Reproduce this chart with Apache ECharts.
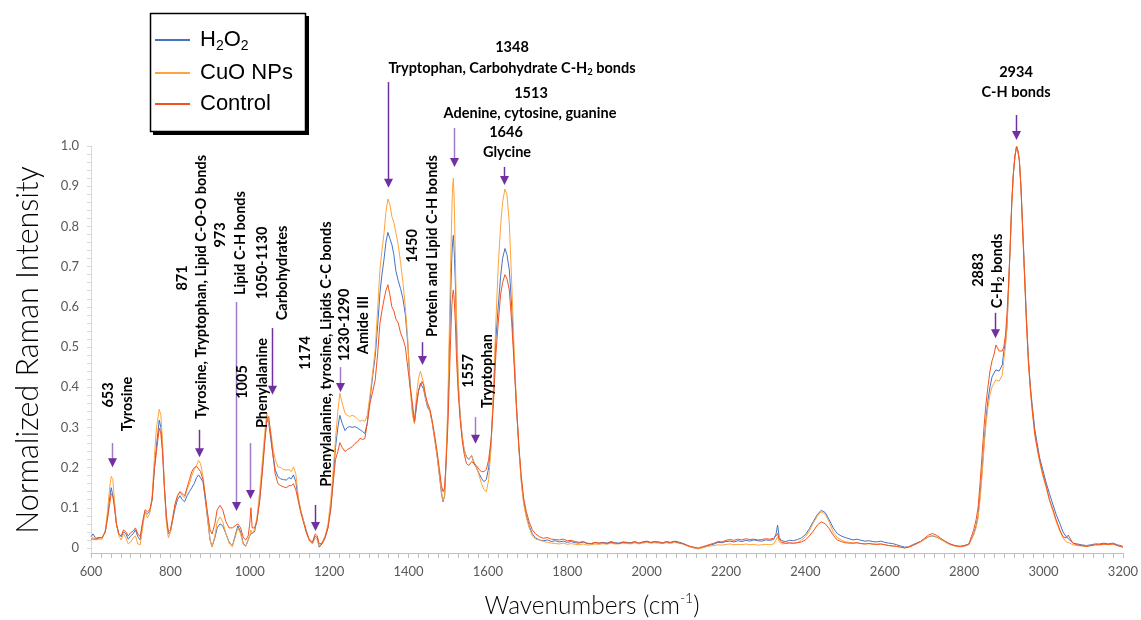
<!DOCTYPE html>
<html>
<head>
<meta charset="utf-8">
<title>Raman spectra</title>
<script src="https://cdn.jsdelivr.net/npm/echarts@6/dist/echarts.min.js"></script>
<style>
  html, body { margin: 0; padding: 0; background: #fff; }
  #chart { width: 1141px; height: 620px; }
</style>
</head>
<body>
<div id="chart"></div>
<script>
// Wavenumbers (cm-1) shared by all three spectra
const wavenumbers = [
  600, 605, 612, 620, 628, 636, 642, 647, 651, 655, 659, 664, 670, 676, 682, 688, 694, 700, 706, 712, 718, 724, 730, 736, 742, 748, 754, 760, 765, 772, 776,
  780, 785, 790, 795, 800, 806, 812, 818, 824, 830, 836, 842, 848, 854, 860, 866, 871, 876, 882, 888, 894, 900,
  905, 912, 918, 925, 932, 940, 948, 956, 963, 970, 977, 984, 990, 996, 1000, 1003, 1006, 1012,
  1018, 1025, 1032, 1038, 1043, 1048, 1053, 1058, 1064, 1071, 1078, 1085, 1092, 1099, 1105, 1110, 1116, 1122, 1128, 1135, 1142, 1150, 1158, 1165, 1170, 1175, 1182, 1190, 1197, 1204, 1210, 1216,
  1222, 1227, 1233, 1240, 1246, 1252, 1258, 1265, 1272, 1278, 1284, 1290, 1296, 1303, 1310, 1316, 1322, 1328, 1333, 1338, 1343, 1348, 1353, 1358, 1363, 1368, 1374, 1380, 1386, 1392, 1398, 1404, 1410, 1415,
  1420, 1425, 1430, 1434, 1438, 1443, 1448, 1454, 1460, 1466, 1472, 1478, 1483, 1487, 1491, 1495, 1499, 1503, 1506, 1509, 1511, 1513, 1515, 1518, 1521, 1525, 1530, 1535, 1540, 1546, 1552, 1559, 1565, 1571, 1578, 1584, 1590, 1596, 1602, 1608, 1614, 1620, 1626, 1632, 1637, 1643, 1648, 1654, 1660, 1666, 1672, 1678, 1684, 1690, 1697, 1704, 1712, 1720,
  1730, 1740, 1750, 1760, 1770, 1780, 1790, 1800, 1810, 1820,
  1830, 1840, 1850, 1860, 1870, 1880, 1890, 1900, 1910, 1920,
  1930, 1940, 1950, 1960, 1970, 1980, 1990, 2000, 2010, 2020,
  2030, 2040, 2050, 2060, 2070, 2080, 2090, 2100, 2110, 2120,
  2130, 2140, 2150, 2160, 2170, 2180, 2190, 2200, 2210, 2220,
  2230, 2240, 2250, 2260, 2270, 2280, 2290, 2300, 2310, 2320,
  2326, 2330, 2334,
  2340, 2350, 2360, 2370, 2380, 2390, 2400, 2410, 2420, 2430,
  2440, 2450, 2460, 2470, 2480, 2490, 2500, 2510, 2520, 2530,
  2540, 2550, 2560, 2570, 2580, 2590, 2600, 2610, 2620, 2630,
  2640, 2650, 2660, 2670, 2680, 2690, 2700, 2710, 2720, 2730,
  2740, 2750, 2760, 2770, 2780, 2790, 2800,
  2805, 2812, 2818, 2824, 2830, 2835, 2840, 2845, 2850, 2855, 2860, 2865, 2870, 2875, 2880, 2884, 2888, 2892, 2896, 2900, 2904, 2908, 2912, 2916, 2920, 2924, 2928, 2932, 2935, 2939, 2943, 2947, 2952, 2957, 2962, 2967, 2972, 2978, 2984, 2990, 2998, 3007, 3015, 3024, 3032, 3041, 3049, 3057, 3062, 3066, 3074, 3085, 3095, 3108, 3120, 3130, 3141, 3152, 3163, 3175, 3186, 3200
];

// Normalized intensity, H2O2-treated cells
const h2o2 = [
  .028, .035, .024, .026, .025, .04, .08, .125, .15, .148, .11, .06, .035, .028, .04, .035, .022, .03, .035, .045, .028, .02, .06, .09, .085, .09, .12, .2, .255, .318, .3,
  .25, .15, .07, .035, .04, .07, .1, .12, .13, .12, .115, .13, .14, .15, .16, .175, .182, .185, .165, .12, .07, .02,
  .003, .025, .05, .06, .055, .035, .015, .004, .03, .055, .04, .01, .005, .02, .03, .035, .032, .04,
  .07, .12, .2, .27, .32, .31, .27, .235, .195, .177, .172, .17, .169, .175, .172, .182, .165, .125, .095, .07, .045, .02, .012, .03, .025, .002, .01, .025, .05, .1, .17, .25,
  .3, .33, .31, .292, .3, .302, .3, .302, .298, .294, .29, .285, .31, .37, .43, .476, .55, .634, .68, .716, .76, .785, .77, .755, .73, .69, .665, .645, .62, .58, .51, .41, .34, .31,
  .35, .39, .41, .41, .395, .37, .35, .34, .31, .27, .23, .18, .135, .115, .13, .22, .33, .5, .62, .72, .76, .778, .74, .66, .54, .41, .33, .28, .245, .227, .22, .23, .21, .2, .185, .173, .165, .17, .2, .26, .38, .52, .6, .675, .72, .745, .73, .692, .6, .47, .35, .25, .17, .115, .08, .055, .035, .025,
  .02, .018, .02, .016, .018, .015, .017, .014, .016, .013,
  .012, .015, .011, .01, .013, .012, .014, .012, .016, .013,
  .012, .015, .014, .013, .016, .012, .015, .017, .014, .016,
  .015, .013, .016, .014, .017, .015, .012, .008, .003, .0,
  -.002, .001, .004, .007, .01, .014, .013, .016, .017, .015,
  .018, .016, .019, .017, .02, .018, .017, .02, .019, .021,
  .035, .057, .026,
  .018, .016, .019, .018, .021, .025, .033, .048, .066, .083,
  .094, .088, .07, .05, .036, .03, .026, .023, .02, .022,
  .019, .017, .018, .016, .015, .017, .014, .012, .011, .008,
  .005, .002, .003, .008, .012, .016, .022, .028, .03, .027,
  .022, .017, .012, .008, .005, .004, .006,
  .005, .01, .022, .035, .055, .08, .13, .19, .26, .32, .368, .4, .425, .435, .443, .445, .44, .437, .455, .49, .51, .551, .65, .75, .86, .932, .975, 1.0, .99, .965, .9, .81, .69, .57, .47, .4, .35, .295, .26, .225, .195, .161, .135, .107, .083, .061, .04, .028, .025, .02, .012, .01, .008, .006, .008, .01, .01, .012, .01, .012, .008, .004
];

// Normalized intensity, CuO nanoparticle-treated cells
const cuoNps = [
  .03, .028, .02, .022, .022, .045, .095, .15, .178, .17, .12, .06, .03, .02, .035, .025, .01, .015, .025, .03, .01, .008, .05, .09, .075, .085, .13, .23, .3, .345, .33,
  .27, .15, .06, .025, .04, .075, .11, .13, .14, .13, .125, .145, .16, .18, .195, .205, .218, .21, .18, .13, .07, .02,
  .003, .03, .065, .077, .065, .035, .012, .004, .025, .05, .035, .008, .004, .02, .03, .045, .035, .045,
  .075, .14, .22, .29, .335, .335, .29, .252, .22, .202, .2, .195, .194, .195, .19, .202, .185, .13, .095, .07, .04, .018, .01, .025, .02, .005, .012, .03, .06, .12, .19, .27,
  .34, .385, .36, .335, .33, .327, .33, .327, .32, .315, .318, .315, .33, .38, .44, .493, .59, .692, .74, .78, .835, .868, .855, .825, .81, .785, .755, .71, .66, .6, .52, .4, .33, .31,
  .38, .42, .44, .443, .41, .37, .355, .34, .31, .27, .23, .18, .14, .118, .13, .23, .36, .55, .7, .83, .9, .92, .87, .72, .58, .43, .33, .28, .245, .225, .22, .23, .215, .2, .18, .16, .145, .14, .17, .25, .4, .56, .7, .8, .86, .893, .88, .808, .66, .5, .36, .25, .165, .11, .075, .05, .03, .022,
  .02, .016, .014, .012, .011, .01, .012, .009, .011, .009,
  .008, .01, .007, .008, .01, .009, .011, .009, .012, .01,
  .01, .012, .011, .01, .013, .01, .012, .014, .012, .013,
  .012, .011, .013, .011, .014, .012, .01, .006, .002, .0,
  -.002, .0, .003, .005, .006, .008, .007, .009, .01, .008,
  .009, .008, .01, .008, .009, .007, .008, .009, .008, .01,
  .02, .028, .015,
  .01, .011, .012, .011, .014, .019, .028, .043, .062, .079,
  .09, .084, .064, .04, .026, .02, .016, .014, .012, .013,
  .011, .01, .011, .009, .009, .01, .008, .006, .005, .004,
  .002, .0, .002, .006, .01, .015, .021, .028, .031, .028,
  .022, .016, .01, .006, .004, .003, .004,
  .003, .008, .02, .033, .05, .075, .12, .18, .25, .31, .351, .38, .4, .41, .418, .42, .415, .412, .43, .468, .5, .551, .65, .75, .86, .932, .975, 1.0, .99, .965, .9, .8, .68, .559, .46, .39, .335, .28, .245, .215, .18, .148, .118, .09, .065, .042, .025, .015, .014, .012, .008, .006, .005, .004, .006, .008, .008, .009, .008, .01, .006, .002
];

// Normalized intensity, untreated control cells
const control = [
  .022, .02, .022, .025, .026, .04, .075, .11, .135, .13, .1, .06, .035, .03, .045, .04, .03, .038, .042, .05, .035, .028, .065, .095, .09, .095, .12, .2, .24, .298, .285,
  .24, .15, .08, .04, .045, .075, .11, .13, .14, .135, .13, .15, .17, .19, .2, .203, .2, .19, .17, .13, .085, .045,
  .035, .06, .095, .106, .095, .065, .05, .05, .055, .06, .05, .025, .02, .03, .06, .1, .05, .05,
  .065, .118, .19, .265, .318, .327, .28, .235, .185, .16, .155, .152, .15, .155, .155, .16, .145, .118, .09, .065, .04, .02, .015, .035, .03, .01, .012, .028, .05, .095, .16, .22,
  .24, .262, .25, .24, .245, .248, .252, .26, .265, .273, .27, .272, .31, .36, .39, .418, .48, .559, .59, .617, .64, .655, .63, .6, .59, .57, .56, .535, .52, .5, .45, .4, .36, .315,
  .36, .39, .405, .414, .405, .38, .36, .345, .315, .28, .24, .195, .155, .14, .15, .22, .3, .42, .52, .6, .63, .642, .62, .56, .47, .39, .32, .27, .235, .21, .205, .215, .21, .205, .195, .19, .19, .195, .22, .27, .36, .48, .56, .63, .66, .68, .67, .642, .56, .46, .35, .255, .18, .125, .09, .065, .045, .035,
  .028, .024, .026, .022, .021, .02, .022, .018, .019, .016,
  .014, .016, .012, .011, .014, .012, .013, .011, .014, .012,
  .011, .014, .013, .012, .015, .012, .014, .016, .013, .015,
  .014, .012, .015, .013, .016, .013, .011, .007, .004, .002,
  .0, .003, .006, .009, .012, .016, .015, .019, .021, .019,
  .022, .02, .023, .021, .022, .02, .021, .023, .022, .024,
  .03, .036, .022,
  .014, .012, .013, .012, .013, .015, .02, .03, .042, .057,
  .065, .06, .048, .032, .02, .016, .013, .012, .012, .013,
  .011, .01, .011, .01, .009, .01, .008, .006, .005, .004,
  .002, .0, .002, .006, .011, .016, .024, .032, .036, .032,
  .025, .018, .012, .008, .005, .004, .005,
  .005, .01, .028, .045, .07, .1, .16, .23, .3, .36, .401, .44, .465, .48, .505, .508, .49, .486, .49, .501, .53, .584, .66, .75, .86, .932, .975, .998, .99, .965, .9, .8, .68, .559, .46, .393, .34, .285, .25, .219, .185, .153, .12, .095, .07, .045, .028, .025, .032, .025, .012, .008, .006, .004, .006, .008, .008, .01, .009, .01, .006, .002
];

const seriesNames = ['H2O2', 'CuO NPs', 'Control'];
const yTickLabels = [0, 0.1, 0.2, 0.3, 0.4, 0.5, 0.6, 0.7, 0.8, 0.9, 1.0];

// Band assignments: arrow position (wavenumber, intensity of arrow top and tip) and label lines
const bands = [
  { wn: 653,  top: 0.261, tip: 0.201, light: true,  labels: [['653', 108, 395, true], ['Tyrosine', 127, 404, true]] },
  { wn: 872,  top: 0.294, tip: 0.226, light: false, labels: [['871', 182, 278, true], ['Tyrosine, Tryptophan, Lipid C-O-O bonds', 201, 287, true]] },
  { wn: 965,  top: 0.612, tip: 0.092, light: true,  labels: [['973', 220, 235, true], ['Lipid C-H bonds', 240, 243, true]] },
  { wn: 1001, top: 0.261, tip: 0.122, light: true,  labels: [['1005', 242, 382, true], ['Phenylalanine', 262, 383, true]] },
  { wn: 1056, top: 0.547, tip: 0.381, light: false, labels: [['1050-1130', 262, 263, true], ['Carbohydrates', 282, 273, true]] },
  { wn: 1164, top: 0.107, tip: 0.042, light: false, labels: [['1174', 305, 353, true], ['Phenylalanine, tyrosine, Lipids C-C bonds', 326, 354, true]] },
  { wn: 1227, top: 0.45,  tip: 0.388, light: true,  labels: [['1230-1290', 344, 325, true], ['Amide III', 363, 325, true]] },
  { wn: 1348, top: 1.159, tip: 0.896, light: false, labels: [['1348', 512, 47, false], ['{m|Tryptophan, Carbohydrate C-H}{sub|2}{m| bonds}', 512, 68, false]] },
  { wn: 1434, top: 0.512, tip: 0.455, light: false, labels: [['1450', 412, 246, true], ['Protein and Lipid C-H bonds', 432, 246, true]] },
  { wn: 1514, top: 1.045, tip: 0.948, light: true,  labels: [['1513', 531, 93, false], ['Adenine, cytosine, guanine', 530, 113, false]] },
  { wn: 1567, top: 0.326, tip: 0.259, light: true,  labels: [['1557', 468, 371, true], ['Tryptophan', 487, 371, true]] },
  { wn: 1640, top: 0.948, tip: 0.903, light: false, labels: [['1646', 506, 132, false], ['Glycine', 507, 152, false]] },
  { wn: 2877, top: 0.585, tip: 0.522, light: false, labels: [['2883', 978, 270, true], ['{m|C-H}{sub|2}{m| bonds}', 997, 271, true]] },
  { wn: 2930, top: 1.077, tip: 1.015, light: false, labels: [['2934', 1016, 72, false], ['C-H bonds', 1016, 92, false]] }
];

const chart = echarts.init(document.getElementById('chart'), null, { renderer: 'canvas' });

const tickFont = 'Lato, "Open Sans", sans-serif';
const yTicks = [];
for (let v = 0; v <= 1.0001; v += 0.02) yTicks.push(Math.round(v * 100) / 100);

function pairs(values) {
  return wavenumbers.map((w, i) => [w, values[i]]);
}

const colors = ['#4472C4', '#FFA33A', '#F4511E'];
const legendFont = '"Liberation Sans", Arial, sans-serif';

chart.setOption({
  animation: false,
  grid: { left: 91, right: 18, top: 146, bottom: 67, containLabel: false },
  legend: {
    orient: 'vertical',
    left: 150,
    top: 13,
    padding: [16, 11, 15, 5],
    itemGap: 9,
    itemWidth: 35,
    itemHeight: 2,
    icon: 'rect',
    z: 12,
    data: seriesNames,
    formatter: function (name) {
      if (name === 'H2O2') return '{t|H}{sub|2}{t|O}{sub|2}';
      return '{t|' + name + '}';
    },
    textStyle: {
      padding: [0, 0, 0, 5],
      rich: {
        t: { fontFamily: legendFont, fontSize: 22, color: '#000', lineHeight: 26, verticalAlign: 'middle' },
        sub: { fontFamily: legendFont, fontSize: 14, color: '#000', lineHeight: 14, verticalAlign: 'bottom' }
      }
    }
  },
  xAxis: {
    type: 'value',
    min: 600,
    max: 3200,
    interval: 200,
    axisLine: { show: true, onZero: false, lineStyle: { color: '#BFBFBF', width: 1 } },
    axisTick: { show: true, length: 5, lineStyle: { color: '#BFBFBF' } },
    minorTick: { show: true, splitNumber: 8, length: 5, lineStyle: { color: '#BFBFBF' } },
    splitLine: { show: false },
    axisLabel: {
      color: '#595959', fontFamily: tickFont, fontSize: 13, margin: 12,
      formatter: function (v) { return String(v); }
    }
  },
  yAxis: {
    type: 'value',
    min: -0.0125,
    max: 1.0,
    axisLine: { show: true, lineStyle: { color: '#D9D9D9', width: 1 } },
    axisTick: { show: true, length: 4, customValues: yTicks, lineStyle: { color: '#D9D9D9' } },
    splitLine: { show: false },
    axisLabel: {
      customValues: yTickLabels,
      color: '#595959',
      fontFamily: tickFont,
      fontSize: 13,
      margin: 12,
      formatter: function (v) { return v === 0 ? '0' : v.toFixed(1); }
    }
  },
  series: [
    { name: seriesNames[0], type: 'line', data: pairs(h2o2), showSymbol: false, color: colors[0], lineStyle: { width: 1, color: colors[0] }, z: 2 },
    { name: seriesNames[1], type: 'line', data: pairs(cuoNps), showSymbol: false, color: colors[1], lineStyle: { width: 1, color: colors[1] }, z: 3 },
    { name: seriesNames[2], type: 'line', data: pairs(control), showSymbol: false, color: colors[2], lineStyle: { width: 1, color: colors[2] }, z: 4 }
  ]
});

// Legend frame, axis titles and band annotations
const annFont = 'Lato, "Open Sans", sans-serif';
const richAnn = {
  m: { fontFamily: annFont, fontWeight: 'bold', fontSize: 14.5, color: '#000', lineHeight: 18, verticalAlign: 'middle' },
  sub: { fontFamily: annFont, fontWeight: 'bold', fontSize: 9.5, color: '#000', lineHeight: 9, verticalAlign: 'bottom' }
};

const graphics = [];

// frame with a hard drop shadow behind the legend
graphics.push({
  type: 'rect', z: 1, zlevel: 0,
  shape: { x: 153, y: 16, width: 156, height: 119 },
  style: { fill: '#000' }
});
graphics.push({
  type: 'rect', z: 2, zlevel: 0,
  shape: { x: 150.5, y: 13.5, width: 155, height: 118 },
  style: { fill: '#fff', stroke: '#000', lineWidth: 1.5 }
});

graphics.push({
  type: 'text', x: 28, y: 350, rotation: Math.PI / 2, z: 10,
  style: {
    text: 'Normalized Raman Intensity',
    fontFamily: 'Lato, "Open Sans", sans-serif', fontWeight: 300, fontSize: 30.5, fill: '#000',
    align: 'center', verticalAlign: 'middle', textAlign: 'center', textVerticalAlign: 'middle'
  }
});

graphics.push({
  type: 'text', x: 592, y: 606, z: 10,
  style: {
    text: '{t|Wavenumbers (cm}{p|-1}{t|)}',
    align: 'center', verticalAlign: 'middle', textAlign: 'center', textVerticalAlign: 'middle',
    rich: {
      t: { fontFamily: 'Lato, "Open Sans", sans-serif', fontWeight: 300, fontSize: 24.5, color: '#000', lineHeight: 30, verticalAlign: 'middle' },
      p: { fontFamily: 'Lato, "Open Sans", sans-serif', fontWeight: 300, fontSize: 14, color: '#000', lineHeight: 14, verticalAlign: 'top' }
    }
  }
});

bands.forEach(function (b) {
  const pTop = chart.convertToPixel({ gridIndex: 0 }, [b.wn, b.top]);
  const pTip = chart.convertToPixel({ gridIndex: 0 }, [b.wn, b.tip]);
  const x = Math.round(pTop[0]) + 0.5;
  const headH = 9, headW = 4.5;
  graphics.push({
    type: 'line', z: 20,
    shape: { x1: x, y1: pTop[1], x2: x, y2: pTip[1] - headH + 1 },
    style: { stroke: b.light ? '#A17CC9' : '#7030A0', lineWidth: 1.5 }
  });
  graphics.push({
    type: 'polygon', z: 20,
    shape: { points: [[x - headW, pTip[1] - headH], [x + headW, pTip[1] - headH], [x, pTip[1]]] },
    style: { fill: '#7030A0' }
  });
  b.labels.forEach(function (l) {
    const txt = l[0].indexOf('{') >= 0 ? l[0] : '{m|' + l[0] + '}';
    graphics.push({
      type: 'text', x: l[1], y: l[2], z: 20,
      rotation: l[3] ? Math.PI / 2 : 0,
      style: {
        text: txt,
        rich: richAnn,
        align: 'center', verticalAlign: 'middle', textAlign: 'center', textVerticalAlign: 'middle'
      }
    });
  });
});

chart.setOption({ graphic: graphics });
</script>
</body>
</html>
